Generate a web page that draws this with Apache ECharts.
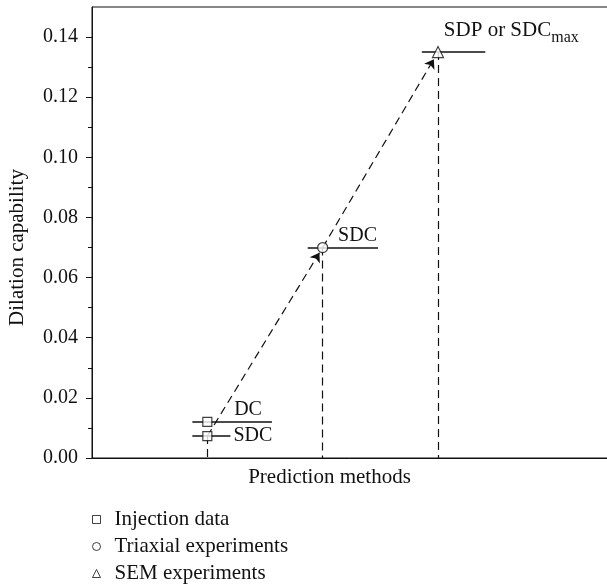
<!DOCTYPE html>
<html>
<head>
<meta charset="utf-8">
<script src="https://cdn.jsdelivr.net/npm/echarts@6/dist/echarts.min.js"></script>
<style>
  html, body { margin: 0; padding: 0; background: #fff; }
  #main { width: 607px; height: 584px; }
</style>
</head>
<body>
<div id="main"></div>
<script>
// data
var methods = ["Injection data", "Triaxial experiments", "SEM experiments"];
var methodX = [1, 2, 3];
var injection = [0.012, 0.0073];   // DC, SDC
var triaxial = [0.07];             // SDC
var sem = [0.135];                 // SDP or SDC_max

// horizontal reference lines
var refLabels = ["DC", "SDC", "SDC", "SDP or SDC_max"];
var refY = [0.012, 0.0073, 0.07, 0.135];
var refFrom = [0.87, 0.87, 1.87, 2.86];
var refTo = [1.56, 1.2, 2.48, 3.41];

var yTicks = [0, 0.02, 0.04, 0.06, 0.08, 0.1, 0.12, 0.14];
var yMinorTicks = [0.01, 0.03, 0.05, 0.07, 0.09, 0.11, 0.13];

var font = "Liberation Serif";

// shorten a segment so the arrow tip stops at the marker edge
function shorten(p, q, f) {
  return [p[0] + (q[0] - p[0]) * (1 - f), p[1] + (q[1] - p[1]) * (1 - f)];
}

var pInj = [methodX[0], injection[1]];
var pTri = [methodX[1], triaxial[0]];
var pSem = [methodX[2], sem[0]];

var arrows = [
  { coords: [pInj, shorten(pInj, pTri, 0.028)] },
  { coords: [pTri, shorten(pTri, pSem, 0.036)] }
];

var drops = [pInj, pTri, pSem].map(function (p) {
  return { coords: [p, [p[0], 0]] };
});

var labelCfg = [
  { position: "insideEndTop", distance: [10, 2] },
  { position: "end", distance: 3 },
  { position: "insideEndTop", distance: [1, 2] },
  { position: "insideStartTop", distance: [22, 6] }
];

var refLines = refLabels.map(function (name, i) {
  var lab = {
    show: true,
    position: labelCfg[i].position,
    distance: labelCfg[i].distance,
    color: "#111",
    fontFamily: font,
    fontSize: 20
  };
  if (name.indexOf("_") > 0) {
    var parts = name.split("_");
    lab.formatter = "{a|" + parts[0] + "}{b|" + parts[1] + "}";
    lab.rich = {
      a: { fontFamily: font, fontSize: 21, color: "#111", padding: [0, 0, 5, 0] },
      b: { fontFamily: font, fontSize: 16, color: "#111", verticalAlign: "bottom" }
    };
  } else {
    lab.formatter = name;
  }
  return {
    name: name,
    coords: [[refFrom[i], refY[i]], [refTo[i], refY[i]]],
    label: lab
  };
});

var myChart = echarts.init(document.getElementById("main"));

var markerStyle = { color: "#fff", borderColor: "#111", borderWidth: 1.2 };

myChart.setOption({
  animation: false,
  grid: {
    left: 92,
    top: 7,
    width: 519,
    bottom: 126,
    outerBoundsMode: "none",
    show: true,
    borderColor: "#111",
    borderWidth: 1,
    backgroundColor: "transparent"
  },
  legend: {
    orient: "vertical",
    left: 92,
    top: 509,
    padding: 0,
    itemWidth: 8,
    itemHeight: 8,
    itemGap: 6,
    data: methods,
    itemStyle: { borderWidth: 1 },
    textStyle: { fontFamily: font, fontSize: 21, color: "#111", padding: [0, 0, 0, 9] }
  },
  xAxis: {
    type: "value",
    min: 0,
    max: 4.5,
    name: "Prediction methods",
    nameLocation: "middle",
    nameGap: 9,
    nameTextStyle: { fontFamily: font, fontSize: 21, color: "#111", padding: [0, 44, 0, 0] },
    axisLine: { show: true, lineStyle: { color: "#111", width: 1 } },
    axisTick: { show: false },
    axisLabel: { show: false },
    splitLine: { show: false }
  },
  yAxis: [
    {
      type: "value",
      min: 0,
      max: 0.15,
      name: "Dilation capability",
      nameLocation: "middle",
      nameGap: 64,
      nameTextStyle: { fontFamily: font, fontSize: 21, color: "#111", padding: [0, 30, 0, 0] },
      axisLine: { show: true, lineStyle: { color: "#111", width: 1 } },
      axisTick: { show: true, length: 6, customValues: yTicks, lineStyle: { color: "#111" } },
      axisLabel: {
        customValues: yTicks,
        margin: 14,
        fontFamily: font,
        fontSize: 20,
        color: "#111",
        formatter: function (v) { return v.toFixed(2); }
      },
      splitLine: { show: false }
    },
    {
      type: "value",
      position: "left",
      min: 0,
      max: 0.15,
      axisLine: { show: false },
      axisTick: { show: true, length: 4, customValues: yMinorTicks, lineStyle: { color: "#111" } },
      axisLabel: { show: false },
      splitLine: { show: false }
    }
  ],
  series: [
    {
      type: "lines",
      coordinateSystem: "cartesian2d",
      z: 2,
      lineStyle: { color: "#111", width: 1.2, type: [8, 5], opacity: 1 },
      data: drops
    },
    {
      type: "lines",
      coordinateSystem: "cartesian2d",
      z: 3,
      symbol: ["none", "arrow"],
      symbolSize: 9,
      lineStyle: { color: "#111", width: 1.2, type: [8, 5], opacity: 1 },
      data: arrows
    },
    {
      type: "lines",
      coordinateSystem: "cartesian2d",
      z: 3,
      lineStyle: { color: "#111", width: 1.5, opacity: 1 },
      data: refLines
    },
    {
      name: methods[0],
      type: "scatter",
      z: 5,
      symbol: "rect",
      symbolSize: 9,
      itemStyle: markerStyle,
      data: injection.map(function (v) { return [methodX[0], v]; })
    },
    {
      name: methods[1],
      type: "scatter",
      z: 5,
      symbol: "circle",
      symbolSize: 10,
      itemStyle: markerStyle,
      data: triaxial.map(function (v) { return [methodX[1], v]; })
    },
    {
      name: methods[2],
      type: "scatter",
      z: 5,
      symbol: "triangle",
      symbolSize: 11,
      itemStyle: markerStyle,
      data: sem.map(function (v) { return [methodX[2], v]; })
    }
  ]
});
</script>
</body>
</html>
